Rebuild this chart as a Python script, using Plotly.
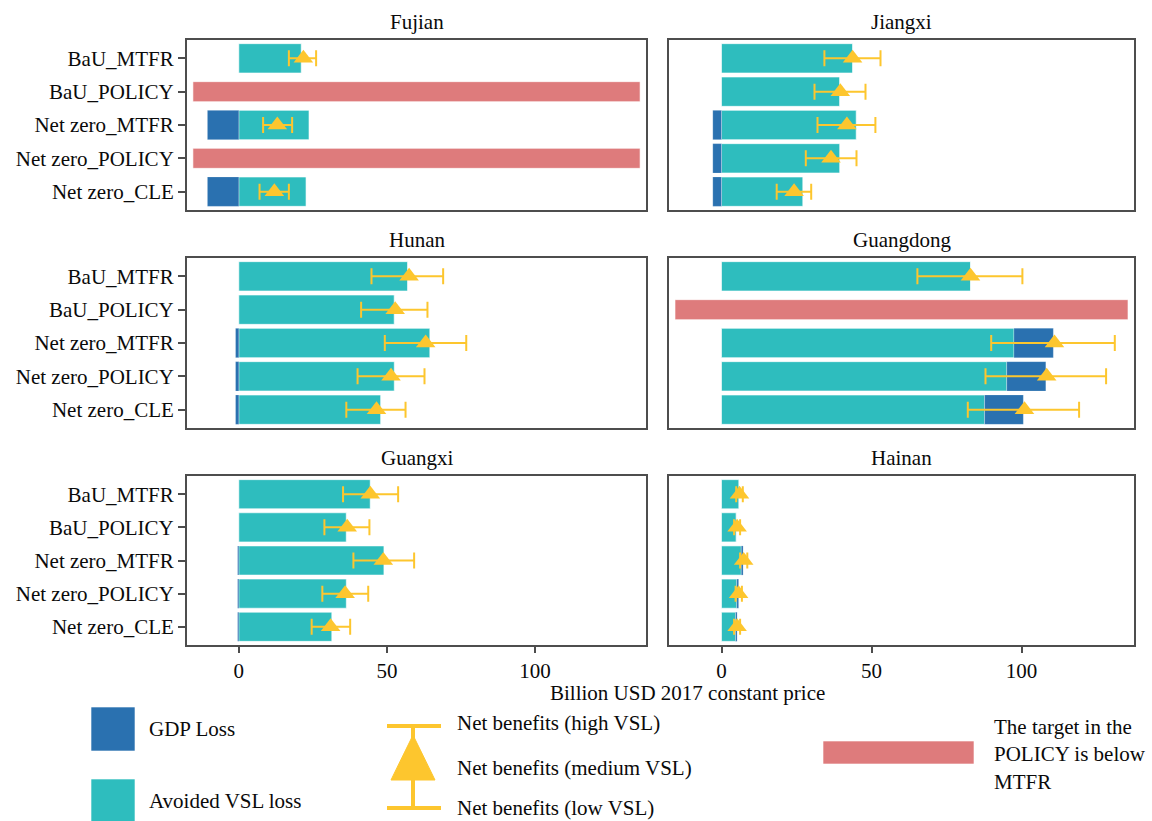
import plotly.graph_objects as go

# ---------------- data ----------------
provinces = ["Fujian", "Jiangxi", "Hunan", "Guangdong", "Guangxi", "Hainan"]
scenarios = ["BaU_MTFR", "BaU_POLICY", "Net zero_MTFR", "Net zero_POLICY", "Net zero_CLE"]

# Avoided VSL loss (billion USD), None where POLICY target is below MTFR
avoided_vsl = {
    "Fujian":    [21.1, None, 23.7, None, 22.7],
    "Jiangxi":   [43.7, 39.4, 44.9, 39.4, 27.1],
    "Hunan":     [57.0, 52.5, 64.5, 52.5, 47.9],
    "Guangdong": [83.0, None, 97.5, 95.1, 87.7],
    "Guangxi":   [44.4, 36.3, 49.0, 36.3, 31.4],
    "Hainan":    [5.8, 4.9, 6.6, 5.1, 4.7],
}
# GDP change (negative = GDP loss)
gdp_change = {
    "Fujian":    [0.0, None, -10.6, None, -10.6],
    "Jiangxi":   [0.0, 0.0, -2.9, -2.9, -2.9],
    "Hunan":     [0.0, 0.0, -1.1, -1.1, -1.1],
    "Guangdong": [0.0, None, 13.1, 13.0, 12.9],
    "Guangxi":   [0.0, 0.0, -0.4, -0.4, -0.4],
    "Hainan":    [0.0, 0.0, 0.6, 0.6, 0.5],
}
net_medium = {
    "Fujian":    [21.8, None, 13.0, None, 12.0],
    "Jiangxi":   [43.7, 39.6, 41.8, 36.5, 24.2],
    "Hunan":     [57.5, 52.8, 63.1, 51.4, 46.5],
    "Guangdong": [83.0, None, 111.0, 108.4, 101.0],
    "Guangxi":   [44.4, 36.6, 48.8, 35.9, 31.0],
    "Hainan":    [6.0, 5.2, 7.4, 5.7, 5.2],
}
net_low = {
    "Fujian":    [16.9, None, 8.2, None, 7.0],
    "Jiangxi":   [34.3, 31.0, 32.0, 28.1, 18.4],
    "Hunan":     [44.8, 41.3, 49.3, 40.1, 36.3],
    "Guangdong": [65.3, None, 89.9, 88.0, 82.1],
    "Guangxi":   [35.2, 28.9, 38.7, 28.2, 24.6],
    "Hainan":    [4.9, 4.2, 6.2, 4.7, 4.2],
}
net_high = {
    "Fujian":    [26.1, None, 18.0, None, 16.9],
    "Jiangxi":   [53.0, 48.0, 51.3, 45.0, 29.9],
    "Hunan":     [69.0, 63.7, 76.8, 62.7, 56.3],
    "Guangdong": [100.3, None, 131.1, 128.2, 119.2],
    "Guangxi":   [53.8, 44.1, 59.2, 43.7, 37.6],
    "Hainan":    [7.1, 6.2, 8.6, 6.8, 6.2],
}
policy_below_mtfr = {
    "Fujian":    [False, True, False, True, False],
    "Guangdong": [False, True, False, False, False],
}
x_ticks = [0, 50, 100]

# ---------------- styles ----------------
W, H = 1152, 821
FONT = "Liberation Serif"
C_GDP = "#2A71B0"
C_VSL = "#2EBDBE"
C_RED = "#DE7B7C"
C_YEL = "#FDC62E"
C_AX = "#4D4D4D"
C_TXT = "#0a0a0a"
X_RANGE = [-17.5, 137.5]
TARGET_START, TARGET_END = -15.5, 135.5

col_dom = [(187, 646), (669, 1134)]
row_dom = [(40, 210), (258, 428), (476, 645)]


def px(x):
    return x / W


def py(y):
    return 1 - y / H


fig = go.Figure()
annotations = []
shapes = []

for i, prov in enumerate(provinces):
    r, c = divmod(i, 2)
    n = i + 1
    xa = "x" if n == 1 else f"x{n}"
    ya = "y" if n == 1 else f"y{n}"

    vsl = avoided_vsl[prov]
    gdp = gdp_change[prov]
    flags = policy_below_mtfr.get(prov, [False] * len(scenarios))

    # Avoided VSL loss bars
    fig.add_trace(go.Bar(
        x=vsl, y=scenarios, base=[0 if v is not None else None for v in vsl],
        orientation="h", width=0.88, marker=dict(color=C_VSL, line=dict(color="rgba(255,255,255,0.6)", width=1)),
        xaxis=xa, yaxis=ya, name="Avoided VSL loss", hoverinfo="x+y"))
    # GDP bars: losses go left from 0, gains stack after avoided VSL
    gdp_base = []
    for v, g in zip(vsl, gdp):
        if g is None:
            gdp_base.append(None)
        elif g < 0:
            gdp_base.append(0)
        else:
            gdp_base.append(v)
    fig.add_trace(go.Bar(
        x=gdp, y=scenarios, base=gdp_base,
        orientation="h", width=0.88, marker=dict(color=C_GDP, line=dict(color="rgba(255,255,255,0.35)", width=0.5)),
        xaxis=xa, yaxis=ya, name="GDP Loss", hoverinfo="x+y"))
    # target below MTFR bars
    red_y = [s for s, f in zip(scenarios, flags) if f]
    if red_y:
        fig.add_trace(go.Bar(
            x=[TARGET_END - TARGET_START] * len(red_y), y=red_y, base=[TARGET_START] * len(red_y),
            orientation="h", width=0.6, marker=dict(color=C_RED, line=dict(color="rgba(255,255,255,0.6)", width=1)),
            xaxis=xa, yaxis=ya, name="The target in the POLICY is below MTFR", hoverinfo="y"))
    # Net benefits
    med, lo, hi = net_medium[prov], net_low[prov], net_high[prov]
    ys, xs, plus, minus = [], [], [], []
    for s, m, l, h in zip(scenarios, med, lo, hi):
        if m is None:
            continue
        ys.append(s)
        xs.append(m)
        plus.append(h - m)
        minus.append(m - l)
    fig.add_trace(go.Scatter(
        x=xs, y=ys, mode="markers",
        marker=dict(symbol="triangle-up", size=17, color=C_YEL),
        error_x=dict(type="data", symmetric=False, array=plus, arrayminus=minus,
                     color=C_YEL, thickness=2, width=8),
        xaxis=xa, yaxis=ya, name="Net benefits", cliponaxis=False))

    x0, x1 = col_dom[c]
    y0, y1 = row_dom[r]
    bottom = r == 2
    left = c == 0
    fig.layout[("xaxis" if n == 1 else f"xaxis{n}")] = dict(
        domain=[px(x0), px(x1)], anchor=ya, range=X_RANGE,
        showline=True, mirror=True, linecolor=C_AX, linewidth=2,
        showgrid=False, zeroline=False,
        tickvals=x_ticks, showticklabels=bottom,
        ticks="outside" if bottom else "", ticklen=6, tickwidth=2, tickcolor=C_AX,
        tickfont=dict(family=FONT, size=21, color=C_TXT))
    fig.layout[("yaxis" if n == 1 else f"yaxis{n}")] = dict(
        domain=[py(y1), py(y0)], anchor=xa,
        type="category", categoryorder="array", categoryarray=scenarios[::-1],
        range=[-0.55, 4.55],
        showline=True, mirror=True, linecolor=C_AX, linewidth=2,
        showgrid=False, zeroline=False,
        showticklabels=left, ticks="outside" if left else "", ticklen=7, tickwidth=2, tickcolor=C_AX,
        tickfont=dict(family=FONT, size=21, color=C_TXT))
    annotations.append(dict(
        text=prov, x=px((x0 + x1) / 2), y=py(y0 - 18), xref="paper", yref="paper",
        xanchor="center", yanchor="middle", showarrow=False,
        font=dict(family=FONT, size=21, color=C_TXT)))

# x-axis title
annotations.append(dict(
    text="Billion USD 2017 constant price", x=px(687), y=py(693), xref="paper", yref="paper",
    xanchor="center", yanchor="middle", showarrow=False, font=dict(family=FONT, size=21, color=C_TXT)))

# ---------------- custom legend ----------------
def rect(x0, y0, x1, y1, color):
    shapes.append(dict(type="rect", xref="paper", yref="paper",
                       x0=px(x0), x1=px(x1), y0=py(y1), y1=py(y0),
                       fillcolor=color, line=dict(color="rgba(255,255,255,0.6)", width=1)))


def label(text, x, y):
    annotations.append(dict(text=text, x=px(x), y=py(y), xref="paper", yref="paper",
                            xanchor="left", yanchor="middle", align="left", showarrow=False,
                            font=dict(family=FONT, size=21, color=C_TXT)))


rect(91, 707, 135, 751, C_GDP)
label("GDP Loss", 147, 729)
rect(91, 779, 135, 823, C_VSL)
label("Avoided VSL loss", 147, 801)

# error-bar key
for (xa0, ya0, xa1, ya1) in [(387, 726, 441, 726), (387, 808, 441, 808), (413, 726, 413, 808)]:
    shapes.append(dict(type="line", xref="paper", yref="paper",
                       x0=px(xa0), y0=py(ya0), x1=px(xa1), y1=py(ya1),
                       line=dict(color=C_YEL, width=4)))
shapes.append(dict(type="path", xref="paper", yref="paper",
                   path=f"M {px(413)} {py(735)} L {px(435)} {py(780)} L {px(391)} {py(780)} Z",
                   fillcolor=C_YEL, line=dict(color=C_YEL, width=1)))
label("Net benefits (high VSL)", 455, 723)
label("Net benefits (medium VSL)", 455, 768)
label("Net benefits (low VSL)", 455, 808)

rect(823, 741, 974, 764, C_RED)
label("The target in the<br>POLICY is below<br>MTFR", 992, 754)

fig.update_layout(
    width=W, height=H, margin=dict(l=0, r=0, t=0, b=0),
    plot_bgcolor="white", paper_bgcolor="white",
    barmode="overlay", showlegend=False,
    font=dict(family=FONT, size=21, color=C_TXT),
    annotations=annotations, shapes=shapes)

fig.write_html(
    "out.html",
    config={"displayModeBar": False},
    post_script="document.body.style.margin='0px';document.body.style.padding='0px';"
                "document.body.style.overflow='hidden';",
)
